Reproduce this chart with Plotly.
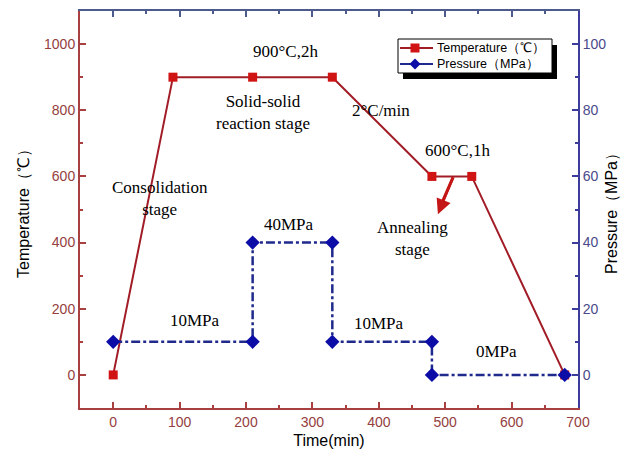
import plotly.graph_objects as go

# Data
temp_time = [0, 90, 210, 330, 480, 540, 680]
temp_vals = [0, 900, 900, 900, 600, 600, 0]
pres_time = [0, 210, 210, 330, 330, 480, 480, 680]
pres_vals = [10, 10, 40, 40, 10, 10, 0, 0]

x_ticks = [0, 100, 200, 300, 400, 500, 600, 700]
yl_ticks = [0, 200, 400, 600, 800, 1000]
yr_ticks = [0, 20, 40, 60, 80, 100]

series_names = ["Temperature（℃）", "Pressure（MPa）"]

W, H = 638, 459
ML, MR, MT, MB = 80, 60, 11, 51
PW, PH = W - ML - MR, H - MT - MB

RED_AX = "#a8403f"
RED_LBL = "#94403e"
BLUE_AX = "#3c3c9c"
BLUE_LBL = "#4a4a8a"
TOP_AX = "#4d5a8c"

T_LINE, T_MARK = "#a11c26", "#d01414"
P_LINE, P_MARK = "#1f2a8c", "#0c0ca6"

fig = go.Figure()
fig.add_trace(go.Scatter(
    x=temp_time, y=temp_vals, name=series_names[0],
    mode="lines+markers",
    line=dict(color=T_LINE, width=2),
    marker=dict(symbol="square", size=9, color=T_MARK),
    xaxis="x", yaxis="y"))
fig.add_trace(go.Scatter(
    x=pres_time, y=pres_vals, name=series_names[1],
    mode="lines+markers",
    line=dict(color=P_LINE, width=2.5, dash="dashdot"),
    marker=dict(symbol="diamond", size=11, color=P_MARK),
    xaxis="x2", yaxis="y2"))

fig.update_layout(
    width=W, height=H,
    margin=dict(l=ML, r=MR, t=MT, b=MB),
    paper_bgcolor="white", plot_bgcolor="white",
    showlegend=False,
    xaxis=dict(range=[-50, 700], tickvals=x_ticks, ticks="inside", ticklen=6, tickwidth=1.5,
               tickcolor=RED_AX, showline=True, linecolor=RED_AX, linewidth=2,
               showgrid=False, zeroline=False,
               minor=dict(dtick=50, ticks="inside", ticklen=3, tickcolor=RED_AX, showgrid=False),
               tickfont=dict(family="Liberation Sans, Arial", size=14, color=RED_LBL),
               title=dict(text="Time(min)", font=dict(family="Liberation Sans, Arial", size=16, color="black"), standoff=6)),
    xaxis2=dict(range=[-50, 700], overlaying="x", side="top", anchor="y2",
                tickvals=x_ticks, ticks="inside", ticklen=6, tickwidth=1.5, tickcolor=TOP_AX,
                showticklabels=False, showline=True, linecolor=TOP_AX, linewidth=2,
                showgrid=False, zeroline=False,
                minor=dict(dtick=50, ticks="inside", ticklen=3, tickcolor=TOP_AX, showgrid=False)),
    yaxis=dict(range=[-100, 1100], tickvals=yl_ticks, ticks="inside", ticklen=6, tickwidth=1.5,
               tickcolor=RED_AX, showline=True, linecolor=RED_AX, linewidth=2,
               showgrid=False, zeroline=False,
               minor=dict(dtick=100, ticks="inside", ticklen=3, tickcolor=RED_AX, showgrid=False),
               tickfont=dict(family="Liberation Sans, Arial", size=14, color=RED_LBL),
               title=dict(text="Temperature（℃）", font=dict(family="Liberation Sans, Arial", size=16, color="black"), standoff=10)),
    yaxis2=dict(range=[-10, 110], overlaying="y", side="right", anchor="x2",
                tickvals=yr_ticks, ticks="inside", ticklen=6, tickwidth=1.5,
                tickcolor=BLUE_AX, showline=True, linecolor=BLUE_AX, linewidth=2,
                showgrid=False, zeroline=False,
                minor=dict(dtick=10, ticks="inside", ticklen=3, tickcolor=BLUE_AX, showgrid=False),
                tickfont=dict(family="Liberation Sans, Arial", size=14, color=BLUE_LBL),
                title=dict(text="Pressure（MPa）", font=dict(family="Liberation Sans, Arial", size=16, color="black"), standoff=0)),
)

# ---- custom legend (paper coords) ----
def px(x):
    return (x - ML) / PW

def py(y):
    return (H - MB - y) / PH

LX0, LX1, LY0, LY1 = 398, 552, 39, 73
fig.add_shape(type="rect", xref="paper", yref="paper",
              x0=px(LX0 + 5), x1=px(LX1 + 5), y0=py(LY1 + 6), y1=py(LY0 + 6),
              fillcolor="black", line=dict(width=0))
fig.add_shape(type="rect", xref="paper", yref="paper",
              x0=px(LX0), x1=px(LX1), y0=py(LY1), y1=py(LY0),
              fillcolor="white", line=dict(color="black", width=1))
rows = [(48, T_LINE, T_MARK, "square", series_names[0]),
        (64, P_LINE, P_MARK, "diamond", series_names[1])]
for ry, lc, mc, sym, name in rows:
    fig.add_shape(type="line", xref="paper", yref="paper",
                  x0=px(400), x1=px(433), y0=py(ry), y1=py(ry),
                  line=dict(color=lc, width=2))
    cx = 415
    if sym == "square":
        fig.add_shape(type="rect", xref="paper", yref="paper",
                      x0=px(cx - 4.5), x1=px(cx + 4.5), y0=py(ry + 4.5), y1=py(ry - 4.5),
                      fillcolor=mc, line=dict(width=0))
    else:
        d = 5.5
        path = "M {} {} L {} {} L {} {} L {} {} Z".format(
            px(cx - d), py(ry), px(cx), py(ry - d), px(cx + d), py(ry), px(cx), py(ry + d))
        fig.add_shape(type="path", xref="paper", yref="paper", path=path,
                      fillcolor=mc, line=dict(width=0))
    fig.add_annotation(xref="paper", yref="paper", x=px(435), y=py(ry), text=name,
                       xanchor="left", yanchor="middle", showarrow=False,
                       font=dict(family="Liberation Sans, Arial", size=12.5, color="black"))

serif = dict(family="Liberation Serif, Times New Roman", size=17, color="black")
labels = [
    (70, 532, "Consolidation<br>stage"),
    (259, 979, "900°C,2h"),
    (226, 792, "Solid-solid<br>reaction stage"),
    (403, 800, "2°C/min"),
    (518, 677, "600°C,1h"),
    (450, 411, "Annealing<br>stage"),
    (264, 456, "40MPa"),
    (123, 163, "10MPa"),
    (400, 154, "10MPa"),
    (577, 70, "0MPa"),
]
for x, y, t in labels:
    fig.add_annotation(x=x, y=y, xref="x", yref="y", text=t, showarrow=False, font=serif)

# arrow pointing to the annealing stage
ARROW_RED = "#c41616"
fig.add_shape(type="line", xref="x", yref="y", x0=512, y0=598, x1=495, y1=520,
              line=dict(color=ARROW_RED, width=3))
fig.add_annotation(x=489, y=486, xref="x", yref="y", text=" ", showarrow=True,
                   font=dict(size=1), borderpad=0,
                   arrowhead=2, arrowsize=1.2, arrowwidth=2.5, arrowcolor=ARROW_RED,
                   axref="x", ayref="y", ax=512, ay=598)

fig.write_html("out.html")
